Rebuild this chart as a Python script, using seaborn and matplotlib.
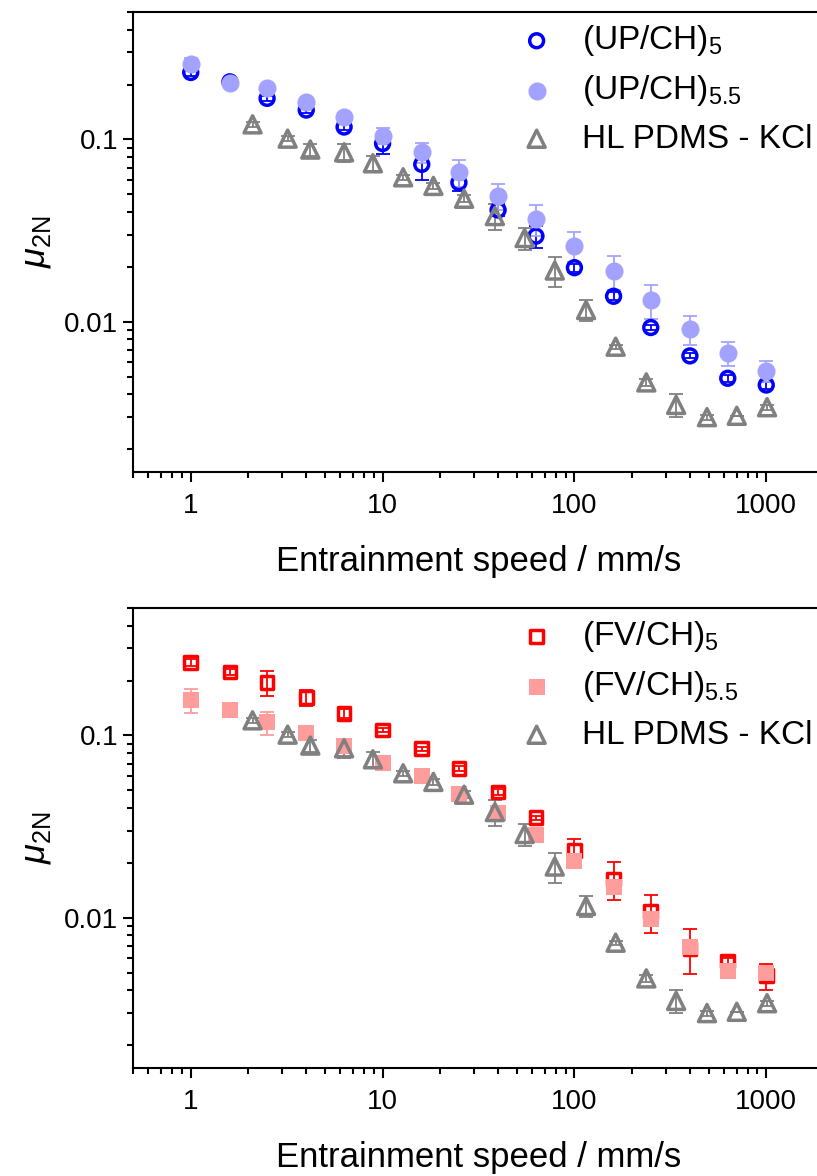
import numpy as np
import pandas as pd
import matplotlib
matplotlib.use("Agg")
import matplotlib.pyplot as plt
import matplotlib.ticker as mticker
import seaborn as sns


# =========================
# Data
# =========================

speed = [1, 1.6, 2.5, 4, 6.3, 10, 16, 25, 40, 63, 100, 160, 250, 400, 630, 1000]

up5 = [0.233, 0.207, 0.168, 0.145, 0.117, 0.095, 0.073, 0.058, 0.041, 0.0295,
       0.0198, 0.0138, 0.0093, 0.0065, 0.0049, 0.0045]
up5_err = [0.01, 0.003, 0.006, 0.006, 0.005, 0.012, 0.013, 0.006, 0.003, 0.004,
           0.001, 0.0007, 0.0003, 0.0002, 0.0002, 0.0002]

up55 = [0.259, 0.204, 0.191, 0.161, 0.133, 0.105, 0.085, 0.066, 0.049, 0.0367,
        0.0262, 0.0189, 0.0131, 0.0091, 0.0067, 0.0054]
up55_err = [0.02, 0.004, 0.006, 0.006, 0.006, 0.01, 0.011, 0.011, 0.008, 0.007,
            0.005, 0.004, 0.0028, 0.0016, 0.001, 0.0007]

fv5 = [0.251, 0.223, 0.195, 0.161, 0.132, 0.107, 0.0845, 0.066, 0.049, 0.0353,
       0.0234, 0.0163, 0.0108, 0.0068, 0.0058, 0.0048]
fv5_err = [0.01, 0.008, 0.03, 0.016, 0.007, 0.003, 0.002, 0.002, 0.002, 0.001,
           0.0037, 0.0038, 0.0025, 0.0019, 0.0002, 0.0008]

fv55 = [0.156, 0.138, 0.118, 0.103, 0.087, 0.071, 0.060, 0.048, 0.0376, 0.0286,
        0.0204, 0.0148, 0.0098, 0.0069, 0.0051, 0.0050]
fv55_err = [0.024, 0.004, 0.017, 0.004, 0.003, 0.002, 0.002, 0.002, 0.002, 0.001,
            0.001, 0.001, 0.0008, 0.0005, 0.0002, 0.0003]

pdms_speed = [2.1, 3.2, 4.2, 6.3, 8.9, 12.8, 18.4, 26.6, 38.5, 55,
              79, 115, 164, 237, 339, 491, 702, 1010]
pdms = [0.121, 0.101, 0.088, 0.085, 0.074, 0.062, 0.0556, 0.0473, 0.038, 0.0288,
        0.0191, 0.0116, 0.0073, 0.00465, 0.0035, 0.0030, 0.00305, 0.0034]
pdms_err = [0.004, 0.003, 0.007, 0.01, 0.007, 0.002, 0.002, 0.002, 0.006, 0.004,
            0.0035, 0.0015, 0.0002, 0.0002, 0.0005, 0.0001, 0.0, 0.0001]


# =========================
# Style
# =========================

sns.set_style("ticks")
plt.rcParams["font.family"] = ["Liberation Sans", "DejaVu Sans"]
plt.rcParams["mathtext.fontset"] = "custom"
plt.rcParams["mathtext.rm"] = "Liberation Sans"
plt.rcParams["mathtext.it"] = "Liberation Sans:italic"
plt.rcParams["axes.linewidth"] = 1.5
plt.rcParams["axes.edgecolor"] = "black"
plt.rcParams["text.color"] = "black"
plt.rcParams["axes.labelcolor"] = "black"
plt.rcParams["xtick.color"] = "black"
plt.rcParams["ytick.color"] = "black"

BLUE = "#0000ff"
LIGHT_BLUE = "#a3a3ff"
RED = "#ff0000"
PINK = "#ff9c9c"
GRAY = "#808080"


def draw_series(ax, x, y, err, color, marker, filled, size, label):
    ax.errorbar(x, y, yerr=err, fmt="none", ecolor=color, elinewidth=1.3,
                capsize=5, capthick=1.3, zorder=2)
    if filled:
        sns.scatterplot(x=x, y=y, ax=ax, marker=marker, s=size, color=color,
                        edgecolor=color, linewidth=0, label=label, zorder=3)
    else:
        sns.scatterplot(x=x, y=y, ax=ax, marker=marker, s=size,
                        facecolor="none", edgecolor=color, linewidth=2.5,
                        label=label, zorder=3)


def style_axes(ax):
    ax.set_xscale("log")
    ax.set_yscale("log")
    ax.set_xlim(0.5, 2000)
    ax.set_ylim(0.0015, 0.5)
    ax.xaxis.set_major_locator(mticker.FixedLocator([1, 10, 100, 1000]))
    ax.xaxis.set_major_formatter(mticker.FixedFormatter(["1", "10", "100", "1000"]))
    ax.xaxis.set_minor_locator(mticker.LogLocator(base=10, subs=np.arange(2, 10)))
    ax.xaxis.set_minor_formatter(mticker.NullFormatter())
    ax.yaxis.set_major_locator(mticker.FixedLocator([0.01, 0.1]))
    ax.yaxis.set_major_formatter(mticker.FixedFormatter(["0.01", "0.1"]))
    ax.yaxis.set_minor_locator(mticker.LogLocator(base=10, subs=np.arange(2, 10)))
    ax.yaxis.set_minor_formatter(mticker.NullFormatter())
    ax.tick_params(which="major", direction="out", length=7, width=1.5,
                   labelsize=20, top=False, right=False)
    ax.tick_params(axis="x", which="major", pad=8)
    ax.tick_params(which="minor", direction="out", length=4, width=1.5,
                   top=False, right=False)
    ax.set_xlabel("Entrainment speed / mm/s", fontsize=25, labelpad=19)
    ax.set_ylabel(r"$\mathit{\mu}_{\mathrm{2N}}$", fontsize=26, labelpad=8)
    for side in ["top", "bottom", "left", "right"]:
        ax.spines[side].set_visible(True)
    ax.legend(loc="upper left", bbox_to_anchor=(0.56, 0.975), frameon=False,
              fontsize=24, handlelength=1.0, handletextpad=0.85,
              labelspacing=0.45, borderpad=0, borderaxespad=0)


# =========================
# Figure
# =========================

fig = plt.figure(figsize=(8.17, 11.76), dpi=100)
W, H = 817, 1176
ax_top = fig.add_axes([133 / W, 1 - 472 / H, (824 - 133) / W, 460 / H])
ax_bot = fig.add_axes([133 / W, 1 - 1068 / H, (824 - 133) / W, 460 / H])

draw_series(ax_top, speed, up5, up5_err, BLUE, "o", False, 100, r"(UP/CH)$_{5}$")
draw_series(ax_top, speed, up55, up55_err, LIGHT_BLUE, "o", True, 170,
            r"(UP/CH)$_{5.5}$")
draw_series(ax_top, pdms_speed, pdms, pdms_err, GRAY, "^", False, 150,
            "HL PDMS - KCl")
style_axes(ax_top)

draw_series(ax_bot, speed, fv5, fv5_err, RED, "s", False, 85, r"(FV/CH)$_{5}$")
draw_series(ax_bot, speed, fv55, fv55_err, PINK, "s", True, 140,
            r"(FV/CH)$_{5.5}$")
draw_series(ax_bot, pdms_speed, pdms, pdms_err, GRAY, "^", False, 150,
            "HL PDMS - KCl")
style_axes(ax_bot)

fig.savefig("out.png", dpi=100)
plt.close(fig)
